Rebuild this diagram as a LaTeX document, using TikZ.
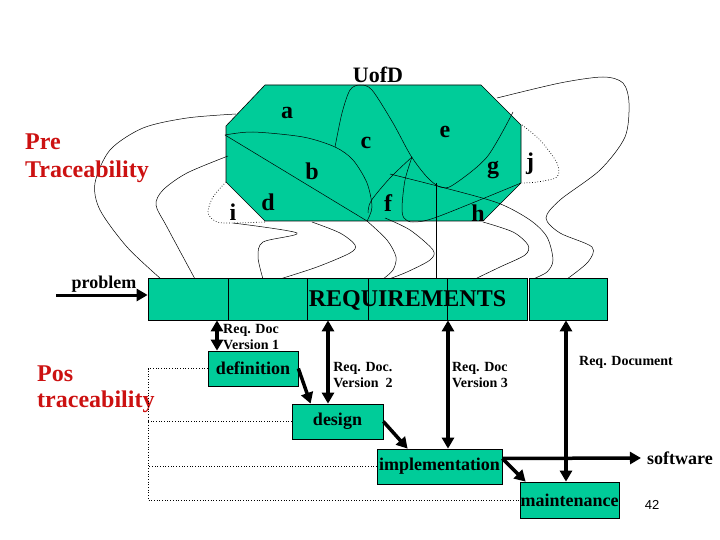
\documentclass[tikz,border=0pt]{standalone}
\usepackage{fontspec}
\setmainfont{Liberation Serif}
\newfontfamily\pagenofont{Liberation Sans}
\usetikzlibrary{arrows.meta}
\definecolor{uofd}{RGB}{0,204,153}
\definecolor{tracered}{RGB}{204,17,17}
\tikzset{
box/.style={ % phase and requirement boxes
draw, fill=uofd, line width=0.7pt, inner sep=0pt,
font=\bfseries\fontsize{18}{20}\selectfont},
region/.style={inner sep=0pt, font=\bfseries\fontsize{24}{28}\selectfont},
doclabel/.style={inner sep=0pt, align=left,
font=\bfseries\fontsize{14}{16}\selectfont},
curve/.style={line width=0.5pt},
tracedot/.style={dotted, line width=0.7pt},
reqarrow/.style={ % two-way arrows to the requirements
line width=3.5pt, {Triangle[length=11pt,width=12pt]}-{Triangle[length=11pt,width=12pt]}},
flowarrow/.style={line width=3.5pt, -{Triangle[length=11pt,width=12pt]}}}

\begin{document}
\begin{tikzpicture}[x=1pt, y=-1pt]
	\useasboundingbox (0,0) rectangle (720,540);
	% universe of discourse
	\filldraw[fill=uofd, draw=black, line width=0.6pt] (265,85) -- (481,85) -- (521,125) -- (521,183) -- (483,221) -- (265,221) -- (226,182) -- (226,126) -- cycle;
	\draw[curve] plot[smooth] coordinates {(225,135) (253,132) (303,137) (335,147) (353,160) (367,183) (372,207) (367,221)};
	\draw[curve] (225,135) -- (367,221);
	\draw[curve] plot[smooth] coordinates {(335,147) (342,113) (350,90) (360,85) (372,90) (393,123) (411,156) (427,177) (440,187) (453,185) (487,157) (513,112)};
	\draw[curve] plot[smooth] coordinates {(412,157) (390,178) (371,201) (368,213)};
	\draw[curve] plot[smooth] coordinates {(412,157) (405,180) (402,207) (404,218) (413,222) (437,217) (521,183)};
	% links down to the requirements
	\draw[curve] plot[smooth] coordinates {(236,114) (187,118) (143,128) (110,150) (95,183) (100,210) (127,247) (161,279)};
	\draw[curve] plot[smooth] coordinates {(228,156) (187,173) (163,190) (156,205) (167,227) (195,279)};
	\draw[tracedot] plot[smooth] coordinates {(226,182) (213,197) (208,213) (217,222) (233,223) (265,222)};
	\draw[curve] plot[smooth] coordinates {(233,223) (297,233) (263,242) (258,257) (263,279)};
	\draw[curve] plot[smooth] coordinates {(312,222) (340,233) (355,245) (350,253) (317,267) (280,279)};
	\draw[curve] plot[smooth] coordinates {(367,221) (387,240) (396,257) (393,270) (383,279)};
	\draw[curve] plot[smooth] coordinates {(385,218) (410,230) (433,250) (430,260) (407,272) (389,279)};
	\draw[curve] plot[smooth] coordinates {(483,222) (513,232) (528,245) (525,255) (500,267) (475,279)};
	\draw[curve] plot[smooth] coordinates {(390,174) (445,188) (498,203) (530,220) (547,237) (553,260) (547,272) (533,279)};
	\draw[curve] plot[smooth] coordinates {(497,98) (560,83) (603,77) (623,83) (629,103) (625,137) (600,170) (560,200) (546,218) (560,233) (592,247) (588,262) (567,279)};
	\draw[tracedot] plot[smooth] coordinates {(522,125) (540,140) (557,163) (557,177) (537,182) (522,183)};
	\draw[curve] (436,183) -- (436,278);

	\node[region] (la) at (287,113) {a};
	\node[region] (lb) at (312,171) {b};
	\node[region] (lc) at (366,143) {c};
	\node[region] (ld) at (268,202) {d};
	\node[region] (le) at (445,132) {e};
	\node[region] (lf) at (388,203) {f};
	\node[region] (lg) at (493,170) {g};
	\node[region] (lh) at (478,213) {h};
	\node[region] (li) at (233,212) {i};
	\node[region] (lj) at (530,164) {j};
	\node[inner sep=0pt, font=\bfseries\fontsize{22}{26}\selectfont] (uofd) at (378,75) {UofD};
	\node[region, text=tracered, align=left, anchor=north west] (pre) at (25,134) {Pre\\Traceability};
	\node[region, text=tracered, align=left, anchor=north west, font=\bfseries\fontsize{24}{26}\selectfont] (pos) at (37,366) {Pos\\traceability};

	% requirements row
	\node[box, minimum width=80pt, minimum height=42pt] (r1) at (188,299) {};
	\node[box, minimum width=79pt, minimum height=42pt] (r2) at (267.5,299) {};
	\node[box, minimum width=61pt, minimum height=42pt] (r3) at (337.5,299) {};
	\node[box, minimum width=79pt, minimum height=42pt] (r4) at (407.5,299) {};
	\node[box, minimum width=80pt, minimum height=42pt] (r5) at (487,299) {};
	\node[box, minimum width=78pt, minimum height=42pt] (r6) at (568,299) {};
	\node[region] (req) at (407.5,300) {REQUIREMENTS};
	\node[inner sep=0pt, font=\bfseries\fontsize{18}{20}\selectfont] (prob) at (104,284) {problem};
	\coordinate (pin) at (56,295);
	\draw[flowarrow, line width=3pt] (pin) -- (pin -| r1.west);

	% life cycle phases
	\node[box, minimum width=90pt, minimum height=35pt] (defn) at (253,368.5) {definition};
	\node[box, minimum width=91pt, minimum height=35pt] (design) at (337.5,421.5) {design};
	\node[box, minimum width=125pt, minimum height=35pt] (impl) at (439.5,466.5) {implementation};
	\node[box, minimum width=99pt, minimum height=36pt] (maint) at (569.5,500) {maintenance};
	\node[inner sep=0pt, font=\bfseries\fontsize{18}{20}\selectfont] (soft) at (680,458) {software};
	\node[inner sep=0pt, font=\pagenofont\fontsize{13}{15}\selectfont] (pgno) at (652,505) {42};

	\draw[reqarrow] (defn.north -| 217,0) -- (r1.south -| 217,0);
	\draw[reqarrow] (design.north -| 328,0) -- (r3.south -| 328,0);
	\draw[reqarrow] (impl.north -| 448,0) -- (r5.south -| 448,0);
	\draw[reqarrow] (maint.north -| 566,0) -- (r6.south -| 566,0);
	\node[doclabel, anchor=north west] (v1) at (223,324) {Req. Doc\\Version 1};
	\node[doclabel] (v2) at (363,375) {Req. Doc.\\Version~~2};
	\node[doclabel] (v3) at (480,375) {Req. Doc\\Version 3};
	\node[doclabel] (v4) at (626,362) {Req. Document};

	\draw[flowarrow] (defn.east) -- ([xshift=19pt]design.north west);
	\draw[flowarrow] (design.east) -- ([xshift=31pt]impl.north west);
	\draw[flowarrow] ([yshift=8pt]impl.east) -- ([xshift=6pt]maint.north west);
	\draw[flowarrow] ([yshift=8pt]impl.east) -- ([xshift=-6pt]soft.west);

	% pos traceability
	\coordinate (tr) at (148,368.5);
	\draw[tracedot] (defn.west) -- (tr) -- (tr |- maint.west) -- (maint.west);
	\draw[tracedot] (design.west) -- (design.west -| tr);
	\draw[tracedot] (impl.west) -- (impl.west -| tr);
\end{tikzpicture}
\end{document}
